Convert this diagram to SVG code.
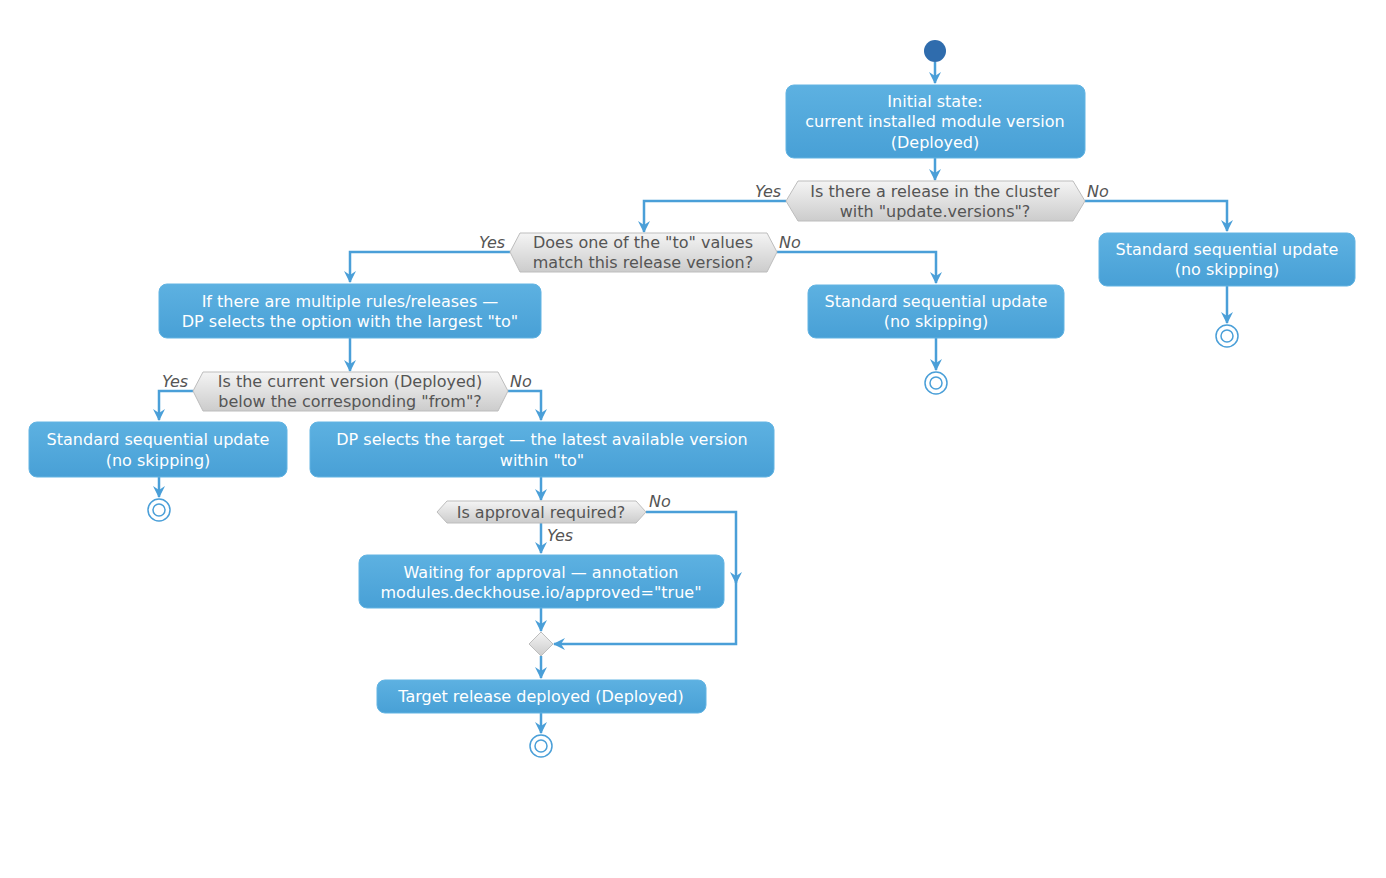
<svg xmlns="http://www.w3.org/2000/svg" width="1386" height="878" viewBox="0 0 1386 878">
<defs>
<linearGradient id="gb" x1="0" y1="0" x2="0" y2="1"><stop offset="0" stop-color="#5db1e1"/><stop offset="1" stop-color="#48a0d6"/></linearGradient>
<linearGradient id="gd" x1="0" y1="0" x2="0" y2="1"><stop offset="0" stop-color="#f4f4f4"/><stop offset="1" stop-color="#cccccc"/></linearGradient>
<marker id="a" viewBox="0 0 12 12" refX="11" refY="6" markerWidth="12" markerHeight="12" markerUnits="userSpaceOnUse" orient="auto"><path d="M0,0 L12,6 L0,12 L4,6 Z" fill="#4a9fd8"/></marker>
</defs>
<style>
.b{fill:url(#gb);stroke:#62b4e3;stroke-width:1}
.d{fill:url(#gd);stroke:#bdbdbd;stroke-width:1}
.t{font-family:"DejaVu Sans",sans-serif;font-size:16px;fill:#fff;text-anchor:middle}
.dt{font-family:"DejaVu Sans",sans-serif;font-size:16px;fill:#555;text-anchor:middle}
.l{font-family:"DejaVu Sans",sans-serif;font-size:16px;fill:#555;font-style:italic}
.c{fill:none;stroke:#4a9fd8;stroke-width:2.5}
.e{fill:#fff;stroke:#4a9fd8;stroke-width:1.5}
</style>
<rect width="1386" height="878" fill="#fff"/>
<g id="connectors">
<path class="c" d="M935,62 V83" marker-end="url(#a)"/>
<path class="c" d="M935,158 V180" marker-end="url(#a)"/>
<path class="c" d="M786,201 H644 V232" marker-end="url(#a)"/>
<path class="c" d="M1085,201 H1227 V231" marker-end="url(#a)"/>
<path class="c" d="M1227,286 V323" marker-end="url(#a)"/>
<path class="c" d="M510,252 H350 V282" marker-end="url(#a)"/>
<path class="c" d="M777,252 H936 V283" marker-end="url(#a)"/>
<path class="c" d="M936,338 V370" marker-end="url(#a)"/>
<path class="c" d="M350,338 V371" marker-end="url(#a)"/>
<path class="c" d="M193,391 H159 V420" marker-end="url(#a)"/>
<path class="c" d="M508,391 H541 V420" marker-end="url(#a)"/>
<path class="c" d="M159,477 V497" marker-end="url(#a)"/>
<path class="c" d="M541,477 V500" marker-end="url(#a)"/>
<path class="c" d="M541,523 V553" marker-end="url(#a)"/>
<path class="c" d="M646,512 H736 V583" marker-end="url(#a)"/>
<path class="c" d="M736,580 V644 H554" marker-end="url(#a)"/>
<path class="c" d="M541,608 V631" marker-end="url(#a)"/>
<path class="c" d="M541,656 V678" marker-end="url(#a)"/>
<path class="c" d="M541,713 V733" marker-end="url(#a)"/>
<text class="l" x="755" y="197">Yes</text>
<text class="l" x="1087" y="197">No</text>
<text class="l" x="479" y="248">Yes</text>
<text class="l" x="779" y="248">No</text>
<text class="l" x="162" y="387">Yes</text>
<text class="l" x="510" y="387">No</text>
<text class="l" x="649" y="507">No</text>
<text class="l" x="547" y="541">Yes</text>
</g>
<g id="start"><circle cx="935" cy="51" r="11" fill="#2f6cad"/></g>
<g id="initial"><rect class="b" x="786" y="85" width="299" height="73" rx="8"/><text class="t" x="935" y="107">Initial state:</text><text class="t" x="935" y="127">current installed module version</text><text class="t" x="935" y="148">(Deployed)</text></g>
<g id="dec1"><polygon class="d" points="786,201 798,181 1073,181 1085,201 1073,221 798,221"/><text class="dt" x="935" y="197">Is there a release in the cluster</text><text class="dt" x="935" y="217">with "update.versions"?</text></g>
<g id="std1"><rect class="b" x="1099" y="233" width="256" height="53" rx="8"/><text class="t" x="1227" y="255">Standard sequential update</text><text class="t" x="1227" y="275">(no skipping)</text></g>
<g id="end1"><circle class="e" cx="1227" cy="336" r="11"/><circle class="e" cx="1227" cy="336" r="6"/></g>
<g id="dec2"><polygon class="d" points="510,252 520,233 767,233 777,252 767,272 520,272"/><text class="dt" x="643" y="248">Does one of the "to" values</text><text class="dt" x="643" y="268">match this release version?</text></g>
<g id="multi"><rect class="b" x="159" y="284" width="382" height="54" rx="8"/><text class="t" x="350" y="307">If there are multiple rules/releases —</text><text class="t" x="350" y="327">DP selects the option with the largest "to"</text></g>
<g id="std2"><rect class="b" x="808" y="285" width="256" height="53" rx="8"/><text class="t" x="936" y="307">Standard sequential update</text><text class="t" x="936" y="327">(no skipping)</text></g>
<g id="end2"><circle class="e" cx="936" cy="383" r="11"/><circle class="e" cx="936" cy="383" r="6"/></g>
<g id="dec3"><polygon class="d" points="193,391 203,372 498,372 508,391 498,411 203,411"/><text class="dt" x="350" y="387">Is the current version (Deployed)</text><text class="dt" x="350" y="407">below the corresponding "from"?</text></g>
<g id="std3"><rect class="b" x="29" y="422" width="258" height="55" rx="8"/><text class="t" x="158" y="445">Standard sequential update</text><text class="t" x="158" y="466">(no skipping)</text></g>
<g id="end3"><circle class="e" cx="159" cy="510" r="11"/><circle class="e" cx="159" cy="510" r="6"/></g>
<g id="target"><rect class="b" x="310" y="422" width="464" height="55" rx="8"/><text class="t" x="542" y="445">DP selects the target — the latest available version</text><text class="t" x="542" y="466">within "to"</text></g>
<g id="dec4"><polygon class="d" points="437,512 447,501 636,501 646,512 636,523 447,523"/><text class="dt" x="541" y="518">Is approval required?</text></g>
<g id="wait"><rect class="b" x="359" y="555" width="365" height="53" rx="8"/><text class="t" x="541" y="578">Waiting for approval — annotation</text><text class="t" x="541" y="598">modules.deckhouse.io/approved="true"</text></g>
<g id="merge"><polygon class="d" points="541,632 553,644 541,656 529,644"/></g>
<g id="deployed"><rect class="b" x="377" y="680" width="329" height="33" rx="8"/><text class="t" x="541" y="702">Target release deployed (Deployed)</text></g>
<g id="end4"><circle class="e" cx="541" cy="746" r="11"/><circle class="e" cx="541" cy="746" r="6"/></g>
</svg>
